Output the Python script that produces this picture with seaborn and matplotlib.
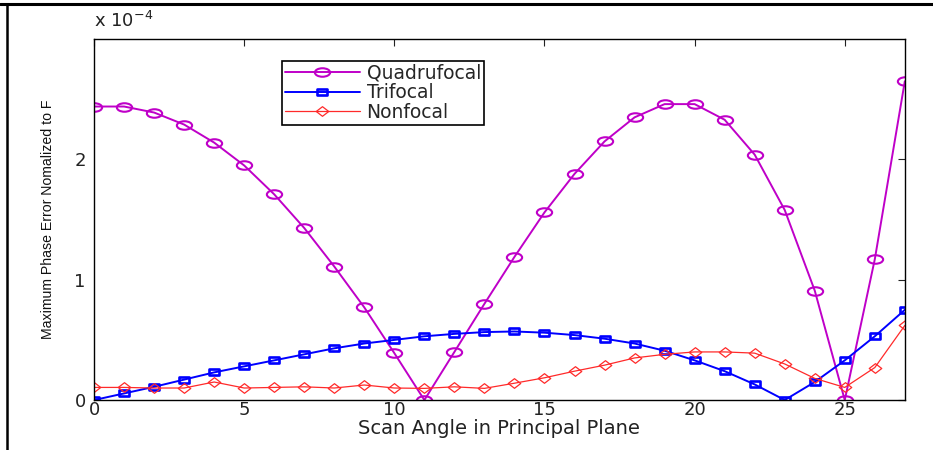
import numpy as np
import pandas as pd
import matplotlib
matplotlib.use("Agg")
import matplotlib.pyplot as plt
from matplotlib.path import Path
from matplotlib.lines import Line2D
import seaborn as sns

# scan angle and phase errors (units of 1e-4)
angles = list(range(28))
quadrufocal = [2.44, 2.44, 2.39, 2.29, 2.14, 1.95, 1.71, 1.43, 1.11, 0.77,
               0.39, 0.00, 0.40, 0.80, 1.19, 1.56, 1.88, 2.15, 2.35, 2.46,
               2.46, 2.33, 2.04, 1.58, 0.91, 0.00, 1.17, 2.65]
trifocal = [0.00, 0.055, 0.11, 0.17, 0.23, 0.28, 0.33, 0.38, 0.43, 0.47,
            0.50, 0.53, 0.55, 0.565, 0.57, 0.56, 0.54, 0.51, 0.47, 0.41,
            0.33, 0.24, 0.13, 0.00, 0.15, 0.33, 0.53, 0.75]
nonfocal = [0.105, 0.105, 0.10, 0.10, 0.15, 0.10, 0.105, 0.11, 0.10, 0.125,
            0.10, 0.097, 0.11, 0.097, 0.14, 0.185, 0.24, 0.29, 0.35, 0.38,
            0.40, 0.40, 0.39, 0.30, 0.18, 0.105, 0.27, 0.62]
names = ["Quadrufocal", "Trifocal", "Nonfocal"]
x_ticks = [0, 5, 10, 15, 20, 25]
y_ticks = [0, 1, 2]

df = pd.DataFrame({
    "angle": angles * 3,
    "err": quadrufocal + trifocal + nonfocal,
    "method": [names[0]] * 28 + [names[1]] * 28 + [names[2]] * 28,
})


def stretched(path, sx):
    # the reference is squashed, so markers come out wider than tall
    return Path(path.vertices * np.array([sx, 1.0]), path.codes)


circle = stretched(Path.unit_circle(), 1.8)
square = Path([(-1.6, -1), (1.6, -1), (1.6, 1), (-1.6, 1), (-1.6, -1)],
              [Path.MOVETO, Path.LINETO, Path.LINETO, Path.LINETO, Path.CLOSEPOLY])
diamond = Path([(0, -1), (1.3, 0), (0, 1), (-1.3, 0), (0, -1)],
               [Path.MOVETO, Path.LINETO, Path.LINETO, Path.LINETO, Path.CLOSEPOLY])

styles = {
    "Quadrufocal": dict(color="#bf00c8", marker=circle, ms=11, lw=1.4, mew=1.5),
    "Trifocal": dict(color="#0000ff", marker=square, ms=7.4, lw=1.4, mew=1.9),
    "Nonfocal": dict(color="#ff2a2a", marker=diamond, ms=9, lw=0.9, mew=0.9),
}

sns.set_style("white")
plt.rcParams["font.family"] = ["DejaVu Sans"]

fig = plt.figure(figsize=(9.33, 4.5), dpi=100)
ax = fig.add_axes([0.1008, 0.111, 0.869, 0.802])

for name in names:
    st = styles[name]
    sns.lineplot(data=df[df["method"] == name], x="angle", y="err", ax=ax,
                 color=st["color"], marker=st["marker"], markersize=st["ms"],
                 linewidth=st["lw"], markeredgewidth=st["mew"],
                 markerfacecolor="none", markeredgecolor=st["color"],
                 label=name, errorbar=None)

ax.set_xlim(0, 27)
ax.set_ylim(0, 3.0)
ax.set_xticks(x_ticks)
ax.set_yticks(y_ticks)
ax.tick_params(direction="in", length=5, width=0.8, top=True, right=True,
               labelsize=13, colors="#222222", labelcolor="#222222")
ax.tick_params(axis="x", pad=1)
ax.tick_params(axis="y", pad=6)
for sp in ax.spines.values():
    sp.set_color("black")
    sp.set_linewidth(1.0)

ax.set_xlabel("Scan Angle in Principal Plane", fontsize=14, labelpad=0,
              color="#222222")
ax.set_ylabel("Maximum Phase Error Nomalized to F", fontsize=10.2,
              family=["Liberation Sans Narrow", "Liberation Sans"],
              labelpad=14, color="#111111")
ax.text(0.0, 1.022, r"x 10$^{-4}$", transform=ax.transAxes, fontsize=13,
        ha="left", va="bottom", color="#222222")

leg = ax.legend(loc="upper left", bbox_to_anchor=(0.232, 0.939), fontsize=13.5,
                handlelength=4.0, handletextpad=0.35, borderpad=0.15,
                labelspacing=0.02, borderaxespad=0, fancybox=False,
                framealpha=1, edgecolor="black")
leg.get_frame().set_linewidth(1.2)

# outer frame pieces seen in the reference
fig.add_artist(Line2D([0.0, 1.0], [0.991, 0.991], color="black", lw=2.2,
                      transform=fig.transFigure))
fig.add_artist(Line2D([0.0075, 0.0075], [0.0, 0.991], color="black", lw=1.8,
                      transform=fig.transFigure))

fig.savefig("out.png", dpi=100)
